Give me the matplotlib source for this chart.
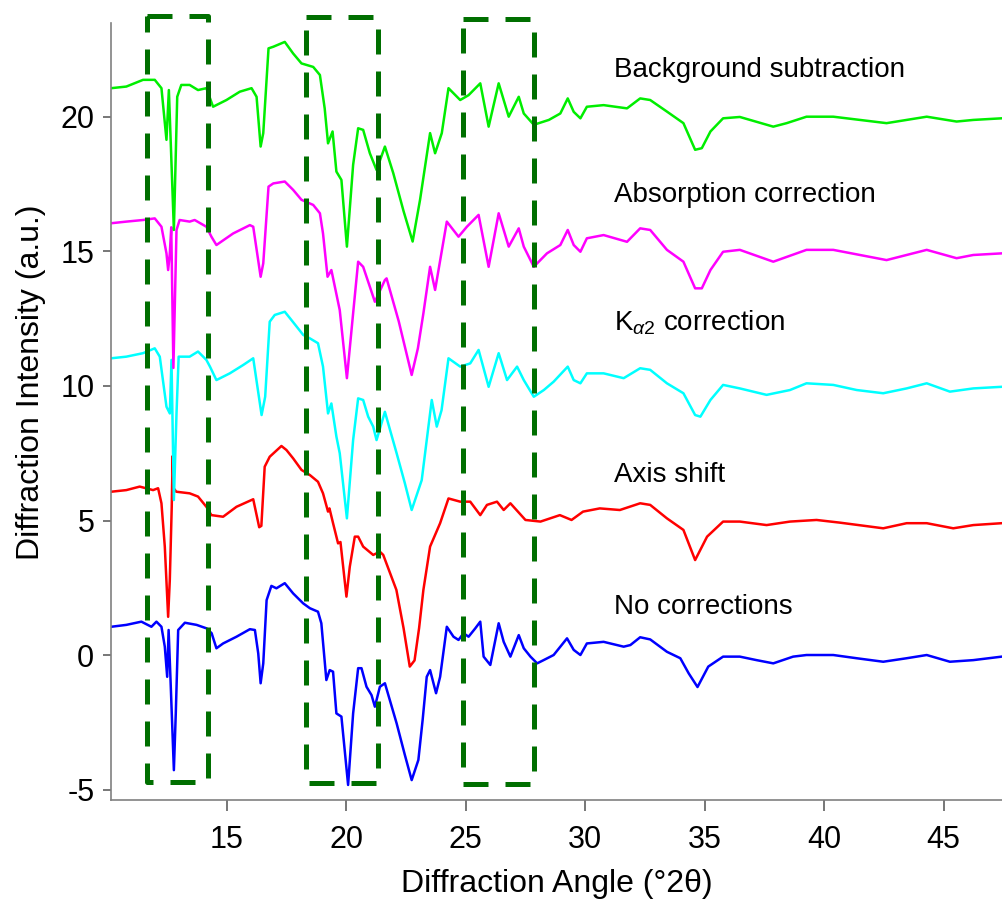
import matplotlib.pyplot as plt

plt.rcParams['font.family'] = ['Liberation Sans', 'DejaVu Sans']
plt.rcParams['mathtext.fontset'] = 'custom'
plt.rcParams['mathtext.rm'] = 'Liberation Sans'
plt.rcParams['mathtext.it'] = 'Liberation Sans:italic'
plt.rcParams['axes.unicode_minus'] = False

# stacked XRD patterns, each already offset by 5 units
x_none = [10.17, 10.8, 11.43, 11.85, 12.06, 12.27, 12.41, 12.51, 12.57, 12.65, 12.79, 12.87,
          12.97, 13.25, 13.74, 14.16, 14.37, 14.57, 14.85, 15.41, 15.97, 16.18, 16.32, 16.42,
          16.53, 16.67, 16.87, 17.08, 17.43, 17.78, 18.2, 18.48, 18.82, 18.96, 19.17, 19.31,
          19.45, 19.59, 19.8, 20.08, 20.29, 20.5, 20.64, 20.85, 21.06, 21.2, 21.41, 21.62,
          22.11, 22.45, 22.74, 23.02, 23.2, 23.37, 23.51, 23.76, 23.93, 24.21, 24.49, 24.7,
          24.91, 25.12, 25.4, 25.61, 25.75, 26.03, 26.38, 26.59, 26.87, 27.22, 27.43, 27.71,
          27.99, 28.26, 28.68, 29.24, 29.52, 29.8, 30.07, 30.77, 31.61, 31.89, 32.3, 32.72,
          33.42, 33.98, 34.33, 34.7, 35.15, 35.77, 36.47, 37.17, 37.87, 38.7, 39.26, 40.38,
          41.36, 42.47, 43.45, 44.29, 45.26, 46.24, 47.43]
y_none = [1.05, 1.12, 1.24, 1.05, 1.24, 1.05, 0.31, -0.81, 0.93, -0.93, -4.28, -2.16,
          0.93, 1.2, 1.12, 0.99, 0.81, 0.25, 0.43, 0.68, 0.96, 0.93, 0.06, -1.05,
          -0.31, 2.04, 2.57, 2.48, 2.67, 2.29, 1.92, 1.74, 1.61, 1.18, -0.93, -0.56,
          -0.62, -2.17, -2.29, -4.83, -2.17, -0.49, -0.49, -1.18, -1.49, -1.92, -1.18, -1.05,
          -2.54, -3.7, -4.65, -3.9, -2.4, -0.81, -0.56, -1.42, -0.81, 1.05, 0.68, 0.56,
          0.81, 0.68, 0.99, 1.24, -0.06, -0.37, 1.18, 0.49, -0.06, 0.74, 0.25, -0.06,
          -0.31, -0.19, 0.0, 0.62, 0.19, 0.0, 0.43, 0.49, 0.31, 0.37, 0.66, 0.58,
          0.12, -0.12, -0.68, -1.19, -0.43, -0.06, -0.06, -0.19, -0.31, -0.06, 0.0, 0.0,
          -0.12, -0.25, -0.12, 0.0, -0.25, -0.19, -0.06]

x_shift = [10.17, 10.8, 11.36, 11.92, 12.13, 12.27, 12.41, 12.55, 12.62, 12.7, 12.74, 12.78,
           12.89, 13.45, 13.8, 14.15, 14.36, 14.85, 15.41, 16.11, 16.36, 16.45, 16.59, 16.8,
           17.29, 17.5, 17.78, 18.13, 18.48, 18.82, 19.03, 19.24, 19.3, 19.45, 19.66, 19.76,
           20.01, 20.15, 20.36, 20.5, 20.71, 21.13, 21.41, 21.55, 22.1, 22.4, 22.66, 22.86,
           23.05, 23.23, 23.51, 23.93, 24.28, 24.77, 25.19, 25.61, 25.89, 26.31, 26.59, 26.87,
           27.5, 28.13, 28.94, 29.43, 29.91, 30.61, 31.45, 32.3, 32.72, 33.42, 34.11, 34.6,
           35.1, 35.77, 36.47, 37.59, 38.57, 39.68, 40.66, 42.47, 43.45, 44.29, 45.4, 46.24,
           47.43]
y_shift = [6.07, 6.13, 6.26, 6.13, 6.2, 5.64, 4.03, 1.42, 2.8, 5.5, 7.4, 6.2,
           6.07, 6.01, 5.89, 5.51, 5.2, 5.14, 5.51, 5.79, 4.75, 4.8, 7.0, 7.37,
           7.77, 7.62, 7.31, 6.88, 6.69, 6.44, 6.01, 5.33, 5.45, 4.9, 4.15, 4.2,
           2.17, 3.28, 4.4, 4.4, 4.03, 3.72, 3.84, 3.72, 2.42, 1.0, -0.43, -0.2,
           1.0, 2.42, 4.03, 4.9, 5.82, 5.7, 5.7, 5.2, 5.58, 5.7, 5.39, 5.64,
           5.02, 4.96, 5.2, 5.02, 5.33, 5.45, 5.39, 5.64, 5.58, 5.08, 4.65, 3.53,
           4.4, 4.96, 4.96, 4.83, 4.96, 5.02, 4.92, 4.71, 4.9, 4.9, 4.71, 4.83,
           4.9]

x_ka2 = [10.17, 10.8, 11.5, 11.99, 12.2, 12.48, 12.62, 12.69, 12.79, 12.9, 12.99, 13.45,
         13.8, 14.15, 14.3, 14.57, 15.13, 15.69, 16.11, 16.46, 16.61, 16.8, 17.01, 17.43,
         17.71, 18.2, 18.48, 18.82, 19.03, 19.24, 19.38, 19.59, 19.73, 20.03, 20.29, 20.5,
         20.71, 20.92, 21.13, 21.27, 21.62, 22.11, 22.45, 22.74, 23.16, 23.58, 23.79, 23.99,
         24.28, 24.77, 25.19, 25.54, 25.96, 26.38, 26.73, 27.15, 27.43, 27.85, 28.27, 28.68,
         29.27, 29.52, 29.8, 30.07, 30.77, 31.61, 32.3, 32.72, 33.42, 34.11, 34.6, 34.82,
         35.24, 35.77, 36.47, 37.59, 38.57, 39.26, 40.38, 41.36, 42.47, 43.45, 44.29, 45.26,
         46.24, 47.43]
y_ka2 = [11.03, 11.09, 11.22, 11.4, 11.09, 9.23, 8.98, 10.97, 5.76, 8.98, 11.09, 11.09,
         11.28, 10.97, 10.72, 10.22, 10.47, 10.78, 11.03, 8.92, 9.6, 12.39, 12.64, 12.76,
         12.45, 11.9, 11.77, 11.59, 10.72, 8.98, 9.35, 8.12, 7.5, 5.08, 7.99, 9.54,
         9.48, 8.86, 8.49, 7.99, 9.04, 7.5, 6.4, 5.39, 6.5, 9.48, 8.49, 9.1,
         11.03, 10.72, 10.84, 11.34, 9.97, 11.22, 10.22, 10.72, 10.22, 9.6, 9.85, 10.16,
         10.72, 10.22, 10.1, 10.47, 10.47, 10.29, 10.66, 10.6, 10.1, 9.73, 8.92, 8.86,
         9.48, 10.04, 9.91, 9.67, 9.85, 10.1, 10.04, 9.85, 9.73, 9.91, 10.1, 9.79,
         9.91, 9.97]

x_abs = [10.17, 10.8, 11.5, 11.99, 12.27, 12.48, 12.55, 12.62, 12.68, 12.77, 12.9, 13.03,
         13.45, 13.66, 14.15, 14.36, 14.57, 15.27, 15.97, 16.11, 16.42, 16.53, 16.75, 16.95,
         17.43, 17.78, 18.13, 18.62, 18.9, 19.03, 19.22, 19.38, 19.73, 20.03, 20.29, 20.5,
         20.71, 20.99, 21.2, 21.62, 21.69, 22.2, 22.74, 23.0, 23.23, 23.51, 23.72, 24.21,
         24.7, 25.05, 25.54, 25.96, 26.38, 26.8, 27.22, 27.43, 27.85, 28.4, 28.96, 29.27,
         29.52, 29.8, 30.07, 30.77, 31.75, 32.3, 32.72, 33.42, 34.11, 34.6, 34.88, 35.24,
         35.77, 36.47, 37.87, 39.26, 40.38, 42.61, 44.29, 45.54, 46.24, 47.43]
y_abs = [16.05, 16.11, 16.17, 16.23, 15.92, 14.93, 14.31, 14.93, 15.9, 10.67, 15.8, 16.17,
         16.11, 16.17, 15.92, 15.55, 15.24, 15.67, 15.98, 15.92, 14.06, 14.56, 17.41, 17.53,
         17.6, 17.29, 16.92, 16.73, 16.42, 15.67, 14.06, 14.31, 12.82, 10.29, 12.7, 14.62,
         14.43, 13.69, 13.13, 13.94, 14.0, 12.4, 10.41, 11.4, 12.7, 14.43, 13.57, 16.11,
         15.55, 15.92, 16.36, 14.43, 16.42, 15.18, 15.86, 15.18, 14.43, 14.93, 15.24, 15.8,
         15.24, 14.99, 15.49, 15.61, 15.36, 15.86, 15.8, 15.06, 14.62, 13.63, 13.63, 14.31,
         14.99, 15.06, 14.62, 15.06, 15.06, 14.68, 15.06, 14.75, 14.87, 14.93]

x_bg = [10.17, 10.8, 11.5, 11.99, 12.27, 12.48, 12.58, 12.79, 12.93, 13.1, 13.45, 13.8,
        14.15, 14.43, 14.99, 15.55, 16.04, 16.25, 16.42, 16.53, 16.75, 16.95, 17.43, 17.78,
        18.13, 18.62, 18.9, 19.1, 19.24, 19.43, 19.59, 19.8, 20.03, 20.29, 20.5, 20.71,
        20.99, 21.27, 21.62, 21.97, 22.4, 22.78, 23.09, 23.51, 23.72, 24.0, 24.28, 24.77,
        25.12, 25.61, 25.96, 26.38, 26.8, 27.22, 27.43, 27.85, 28.48, 28.96, 29.27, 29.52,
        29.8, 30.07, 30.77, 31.75, 32.3, 32.72, 33.42, 34.11, 34.6, 34.88, 35.24, 35.77,
        36.47, 37.87, 38.43, 39.26, 40.38, 42.61, 44.29, 45.54, 46.24, 47.43]
y_bg = [21.07, 21.13, 21.38, 21.38, 21.07, 19.15, 21.0, 15.8, 20.75, 21.19, 21.19, 21.0,
        21.07, 20.38, 20.63, 20.94, 21.07, 20.75, 18.9, 19.4, 22.55, 22.61, 22.79, 22.36,
        21.99, 21.86, 21.56, 20.32, 19.02, 19.46, 17.97, 17.66, 15.18, 18.22, 19.58, 19.52,
        18.65, 18.03, 18.9, 17.91, 16.5, 15.37, 16.92, 19.4, 18.65, 19.4, 21.07, 20.63,
        20.81, 21.25, 19.64, 21.25, 20.01, 20.75, 20.13, 19.71, 19.89, 20.13, 20.69, 20.19,
        19.95, 20.38, 20.44, 20.32, 20.69, 20.63, 20.2, 19.77, 18.78, 18.84, 19.46, 19.95,
        20.0, 19.64, 19.77, 20.01, 20.01, 19.77, 20.01, 19.83, 19.89, 19.95]

labels = ['No corrections', 'Axis shift', r'K$_{\alpha2}$ correction',
          'Absorption correction', 'Background subtraction']
label_y = [1.78, 6.69, 12.34, 17.1, 21.75]
colors = ['#0000ff', '#ff0000', '#00ffff', '#ff00ff', '#00ee00']

# highlighted angle ranges (left, right, bottom, top)
box_x0 = [11.65, 18.32, 24.87]
box_x1 = [14.23, 21.34, 27.86]
box_y0 = [-4.71, -4.77, -4.8]
box_y1 = [23.75, 23.72, 23.66]

# %%

fig = plt.figure(figsize=(10.02, 9.05), dpi=100)
ax = fig.add_axes([0.1108, 0.116, 0.8892, 0.8588])

series = [(x_none, y_none), (x_shift, y_shift), (x_ka2, y_ka2),
          (x_abs, y_abs), (x_bg, y_bg)]
for (xs, ys), c in zip(series, colors):
    ax.plot(xs, ys, color=c, lw=1.8, solid_joinstyle='round')

for lab, ly in zip(labels, label_y):
    ax.text(31.2, ly, lab, fontsize=20, va='center', ha='left')

for x0, x1, y0, y1 in zip(box_x0, box_x1, box_y0, box_y1):
    ax.plot([x0, x1, x1, x0, x0], [y1, y1, y0, y0, y1], color='#006f00',
            lw=3.6, ls=(0, (5, 3.4)), clip_on=False, zorder=5)

ax.set_xlim(10.16, 47.44)
ax.set_ylim(-5.39, 23.5)
ax.set_xticks([15, 20, 25, 30, 35, 40, 45])
ax.set_yticks([-5, 0, 5, 10, 15, 20])

for s in ['top', 'right']:
    ax.spines[s].set_visible(False)
for s in ['left', 'bottom']:
    ax.spines[s].set_color('#808080')
    ax.spines[s].set_linewidth(1.2)
ax.tick_params(axis='both', colors='#606060', labelcolor='black',
               labelsize=22, width=1.2)
ax.tick_params(axis='x', length=8, pad=10)
ax.tick_params(axis='y', length=6, pad=6)

ax.set_xlabel('Diffraction Angle (\u00b02\u03b8)', fontsize=23, labelpad=10)
ax.set_ylabel('Diffraction Intensity (a.u.)', fontsize=23)
ax.yaxis.set_label_coords(-0.073, 0.537)

fig.savefig('out.png', dpi=100)
